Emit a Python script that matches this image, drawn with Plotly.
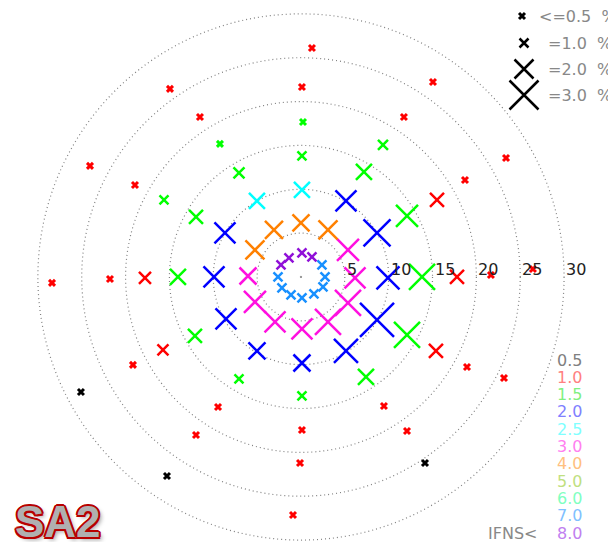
import plotly.graph_objects as go

# ---------------- data (x, y in plot units; pct = marker size class; level = IFNS class)
x = [2.74, 2.39, 1.25, 0.11, -1.37, -2.28, -2.62, -2.17, -1.14, 0.11, 1.48, 2.51,
     6.16, 5.36, 3.08, 0.00, -3.08, -5.25, -6.04, -5.25, -2.96, 0.11, 3.08, 5.36,
     9.92, 8.67, 5.13, 0.11, -5.02, -8.67, -9.92, -8.55, -5.02, 0.11, 5.13, 8.67,
     13.80, 12.09, 7.18, 0.11, -7.07, -11.97, -14.03, -12.09, -7.07, 0.11, 7.41, 12.09,
     17.79, 15.51, 9.35, 0.23, -9.24, -15.62, -17.79, -15.74, -9.46, 0.11, 9.46, 15.39,
     21.66, 18.70, 11.74, 0.11, -11.52, -18.93, -21.78, -19.16, -11.97, -0.11, 12.09, 18.93,
     26.45, 23.38, 15.05, 1.25, -14.94, -24.06, -28.39, -25.09, -15.28, -0.91, 14.14, 23.15]
y = [0.00, 1.37, 2.28, 2.74, 2.17, 1.37, 0.00, -1.25, -2.05, -2.39, -1.94, -1.14,
     -0.11, 3.08, 5.36, 6.16, 5.36, 3.08, 0.11, -2.85, -5.13, -5.93, -5.13, -2.96,
     -0.11, 5.02, 8.67, 9.92, 8.67, 5.02, 0.00, -4.79, -8.44, -9.81, -8.44, -4.90,
     0.00, 6.96, 11.97, 13.80, 11.86, 6.84, 0.00, -6.73, -11.63, -13.57, -11.40, -6.61,
     0.00, 8.78, 15.05, 17.67, 15.17, 8.78, -0.11, -8.32, -14.82, -17.45, -14.71, -8.44,
     0.23, 11.06, 18.24, 21.66, 18.24, 10.49, -0.23, -10.03, -18.02, -21.21, -17.56, -10.26,
     0.91, 13.57, 22.23, 26.11, 21.44, 12.66, -0.68, -13.11, -22.69, -27.14, -21.21, -11.52]
pct = [1.0, 1.0, 1.0, 1.0, 1.0, 1.0, 1.0, 1.0, 1.0, 1.0, 1.0, 1.0,
       2.2, 2.3, 2.0, 1.8, 1.9, 2.0, 1.8, 2.3, 2.2, 2.2, 2.7, 2.7,
       2.4, 2.8, 2.2, 1.7, 1.7, 2.2, 2.2, 2.2, 1.8, 1.8, 2.5, 3.5,
       2.7, 2.3, 1.7, 1.0, 1.2, 1.5, 1.7, 1.5, 1.0, 1.0, 1.7, 2.7,
       1.5, 1.5, 1.1, 0.5, 0.5, 1.0, 1.3, 1.2, 0.5, 0.5, 0.5, 1.5,
       0.5, 0.5, 0.5, 0.5, 0.5, 0.5, 0.5, 0.5, 0.5, 0.5, 0.5, 0.5,
       0.5, 0.5, 0.5, 0.5, 0.5, 0.5, 0.5, 0.5, 0.5, 0.5, 0.5, 0.5]
level = ["7.0", "7.0", "8.0", "8.0", "8.0", "8.0", "7.0", "7.0", "7.0", "7.0", "7.0", "7.0",
         "3.0", "3.0", "4.0", "4.0", "4.0", "4.0", "3.0", "3.0", "3.0", "3.0", "3.0", "3.0",
         "2.0", "2.0", "2.0", "2.5", "2.5", "2.0", "2.0", "2.0", "2.0", "2.0", "2.0", "2.0",
         "1.5", "1.5", "1.5", "1.5", "1.5", "1.5", "1.5", "1.5", "1.5", "1.5", "1.5", "1.5",
         "1.0", "1.0", "1.5", "1.5", "1.5", "1.5", "1.0", "1.0", "1.0", "1.0", "1.0", "1.0",
         "1.0", "1.0", "1.0", "1.0", "1.0", "1.0", "1.0", "1.0", "1.0", "1.0", "1.0", "1.0",
         "1.0", "1.0", "1.0", "1.0", "1.0", "1.0", "1.0", "0.5", "0.5", "1.0", "0.5", "1.0"]

ring_radii = [5, 10, 15, 20, 25, 30]
ring_labels = ["5", "10", "15", "20", "25", "30"]

level_labels = ["0.5", "1.0", "1.5", "2.0", "2.5", "3.0", "4.0", "5.0", "6.0", "7.0", "8.0"]
size_labels = ["<=0.5&nbsp;&nbsp;%", "=1.0&nbsp;&nbsp;%", "=2.0&nbsp;&nbsp;%", "=3.0&nbsp;&nbsp;%"]
size_values = [0.5, 1.0, 2.0, 3.0]

# ---------------- styles
mark_color = {"0.5": "#000000", "1.0": "#ff0000", "1.5": "#00ff00", "2.0": "#0000ff",
              "2.5": "#00ffff", "3.0": "#ff10e0", "4.0": "#ff8000", "5.0": "#80c000",
              "6.0": "#00ff80", "7.0": "#1890ff", "8.0": "#9010d8"}
text_color = {"0.5": "#808080", "1.0": "#ff8080", "1.5": "#80f080", "2.0": "#8080ff",
              "2.5": "#80ffff", "3.0": "#ff80f0", "4.0": "#ffc080", "5.0": "#c0e080",
              "6.0": "#80ffc0", "7.0": "#80c0ff", "8.0": "#c080f0"}


def msize(p):
    return max(6.0, 10.0 * p - 1.0)


def mwidth(p):
    return 3.0 if p <= 0.5 else 2.5


fig = go.Figure()

fig.add_trace(go.Scatter(
    x=x, y=y, mode="markers", hoverinfo="skip", showlegend=False,
    marker=dict(symbol="x-thin", opacity=1, size=[msize(p) for p in pct],
                line=dict(color=[mark_color[l] for l in level], width=[mwidth(p) for p in pct]))))

# size-legend glyphs on a pixel overlay axis
fig.add_trace(go.Scatter(
    x=[522, 524, 524, 524], y=[16, 43, 69, 95], xaxis="x2", yaxis="y2",
    mode="markers", hoverinfo="skip", showlegend=False,
    marker=dict(symbol="x-thin", opacity=1, size=[msize(v) for v in size_values],
                line=dict(color="#000000", width=[mwidth(v) for v in size_values]))))

shapes = []
for r in ring_radii:
    shapes.append(dict(type="circle", xref="x", yref="y", x0=-r, x1=r, y0=-r, y1=r,
                       line=dict(color="#808080", width=1.2, dash="1px,3px"), layer="below"))
shapes.append(dict(type="circle", xref="x", yref="y", x0=-0.08, x1=0.08, y0=-0.08, y1=0.08,
                   line=dict(color="#8a8a8a", width=1), fillcolor="#8a8a8a", layer="below"))

ann = []
for r, t in zip(ring_radii, ring_labels):
    ann.append(dict(x=r, y=0.85, xref="x", yref="y", text=t, showarrow=False,
                    xanchor="left", yanchor="middle",
                    font=dict(family="DejaVu Sans", size=16, color="#222222")))

size_text_x = [537, 546, 546, 546]
for lbl, ty, tx in zip(size_labels, [16, 43, 69, 95], size_text_x):
    ann.append(dict(x=tx, y=ty, xref="x2", yref="y2", text=lbl, showarrow=False,
                    xanchor="left", yanchor="middle",
                    font=dict(family="DejaVu Sans", size=16, color="#888888")))

for i, lbl in enumerate(level_labels):
    ann.append(dict(x=555, y=360 + i * 17.3, xref="x2", yref="y2", text=lbl, showarrow=False,
                    xanchor="left", yanchor="middle",
                    font=dict(family="DejaVu Sans", size=16, color=text_color[lbl])))
ann.append(dict(x=539, y=533, xref="x2", yref="y2", text="IFNS<", showarrow=False,
                xanchor="right", yanchor="middle",
                font=dict(family="DejaVu Sans", size=16, color="#888888")))

outline = ", ".join([f"{dx}px {dy}px 0 #b80000" for dx, dy in
                     [(2, 0), (-2, 0), (0, 2), (0, -2), (1.5, 1.5), (-1.5, -1.5), (1.5, -1.5), (-1.5, 1.5)]])
ann.append(dict(x=58, y=521, xref="x2", yref="y2", text="<b>SA2</b>", showarrow=False,
                xanchor="center", yanchor="middle",
                font=dict(family="Liberation Sans", size=44, color="#b0b0b0",
                          shadow=outline + ", 3px 3px 4px rgba(0,0,0,0.35)")))

fig.update_layout(
    width=608, height=542, margin=dict(l=0, r=0, t=0, b=0),
    paper_bgcolor="white", plot_bgcolor="white",
    xaxis=dict(range=[-34.32, 35.01], visible=False, fixedrange=True),
    yaxis=dict(range=[-30.22, 31.58], visible=False, fixedrange=True),
    xaxis2=dict(range=[0, 608], overlaying="x", visible=False, fixedrange=True),
    yaxis2=dict(range=[542, 0], overlaying="y", visible=False, fixedrange=True),
    shapes=shapes, annotations=ann, showlegend=False,
)

fig.write_html("out.html", config={"displayModeBar": False, "staticPlot": True},
               post_script="document.body.style.margin='0';document.body.style.overflow='hidden';")
